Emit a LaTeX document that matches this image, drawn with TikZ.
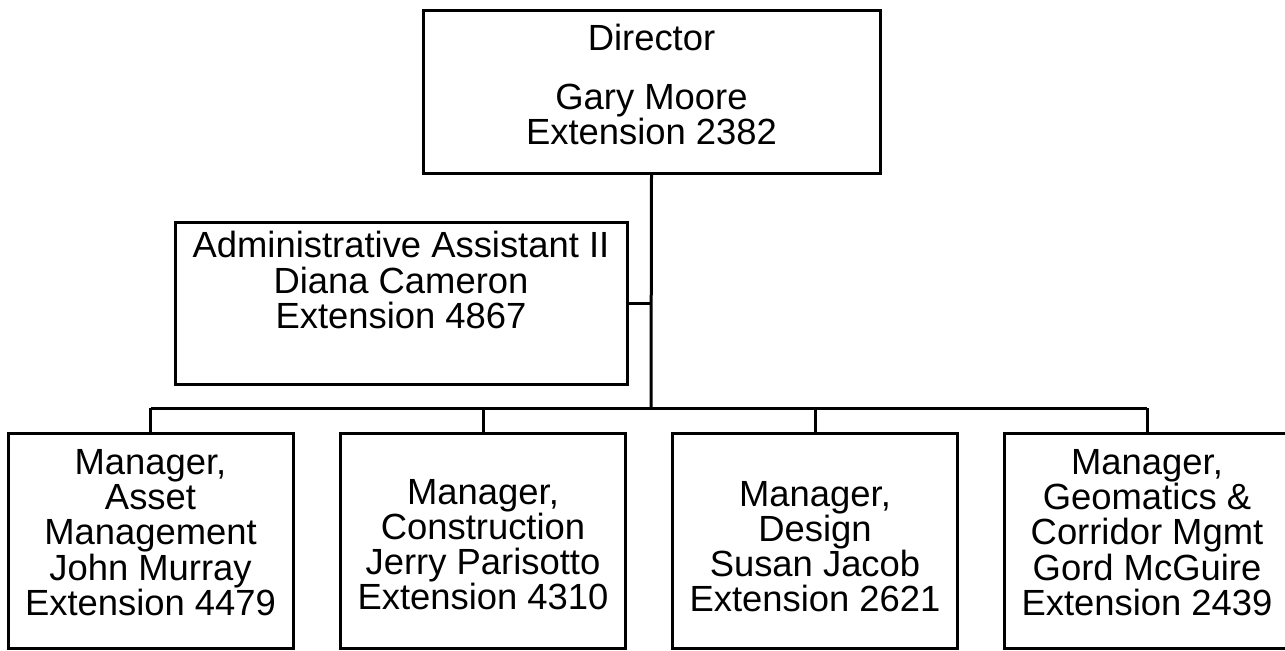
\documentclass[tikz,border=0pt]{standalone}
\usepackage{fontspec}
\setmainfont{Liberation Sans}
\usepackage{tikz}
\usetikzlibrary{calc}

\begin{document}
\begin{tikzpicture}[x=0.5pt, y=-0.5pt, line width=1.5pt,
    box/.style={draw, rectangle, inner sep=0pt},
    mgr/.style={box, minimum width=142.5pt, minimum height=107.5pt},
    txt/.style={align=center, inner sep=0pt, font=\fontsize{18.2}{17.6}\selectfont}]
    \useasboundingbox (0,0) rectangle (1285,650);
    % boxes
    \node[box, minimum width=228.5pt, minimum height=81.5pt] (dir) at (651.5, 91.5) {};
    \node[box, minimum width=226pt, minimum height=81pt] (adm) at (401, 303) {};
    \node[mgr] (m1) at (150.5, 540.5) {};
    \node[mgr] (m2) at (483, 540.5) {};
    \node[mgr] (m3) at (815, 540.5) {};
    \node[mgr] (m4) at (1147, 540.5) {};
    % texts
    \node[txt] (dirtxt) at ($(dir) + (0, -7)$) {Director\\[12pt]Gary Moore\\Extension 2382};
    \node[txt] (admtxt) at ($(adm) + (0, -23)$) {Administrative Assistant II\\Diana Cameron\\Extension 4867};
    \node[txt] (m1txt) at ($(m1) + (0, -8)$) {Manager,\\Asset\\Management\\John Murray\\Extension 4479};
    \node[txt] (m2txt) at ($(m2) + (0, 4)$) {Manager,\\Construction\\Jerry Parisotto\\Extension 4310};
    \node[txt] (m3txt) at ($(m3) + (0, 6)$) {Manager,\\Design\\Susan Jacob\\Extension 2621};
    \node[txt] (m4txt) at ($(m4) + (0, -8)$) {Manager,\\Geomatics \&\\Corridor Mgmt\\Gord McGuire\\Extension 2439};
    % lines
    \coordinate (bus) at (651, 408);
    \draw (dir.south) -- (bus);
    \draw (adm.east) -- (adm.east -| bus);
    \draw (m1.north |- bus) -- (m4.north |- bus);
    \foreach \m in {m1, m2, m3, m4}
        \draw (\m.north) -- (\m.north |- bus);
\end{tikzpicture}
\end{document}
